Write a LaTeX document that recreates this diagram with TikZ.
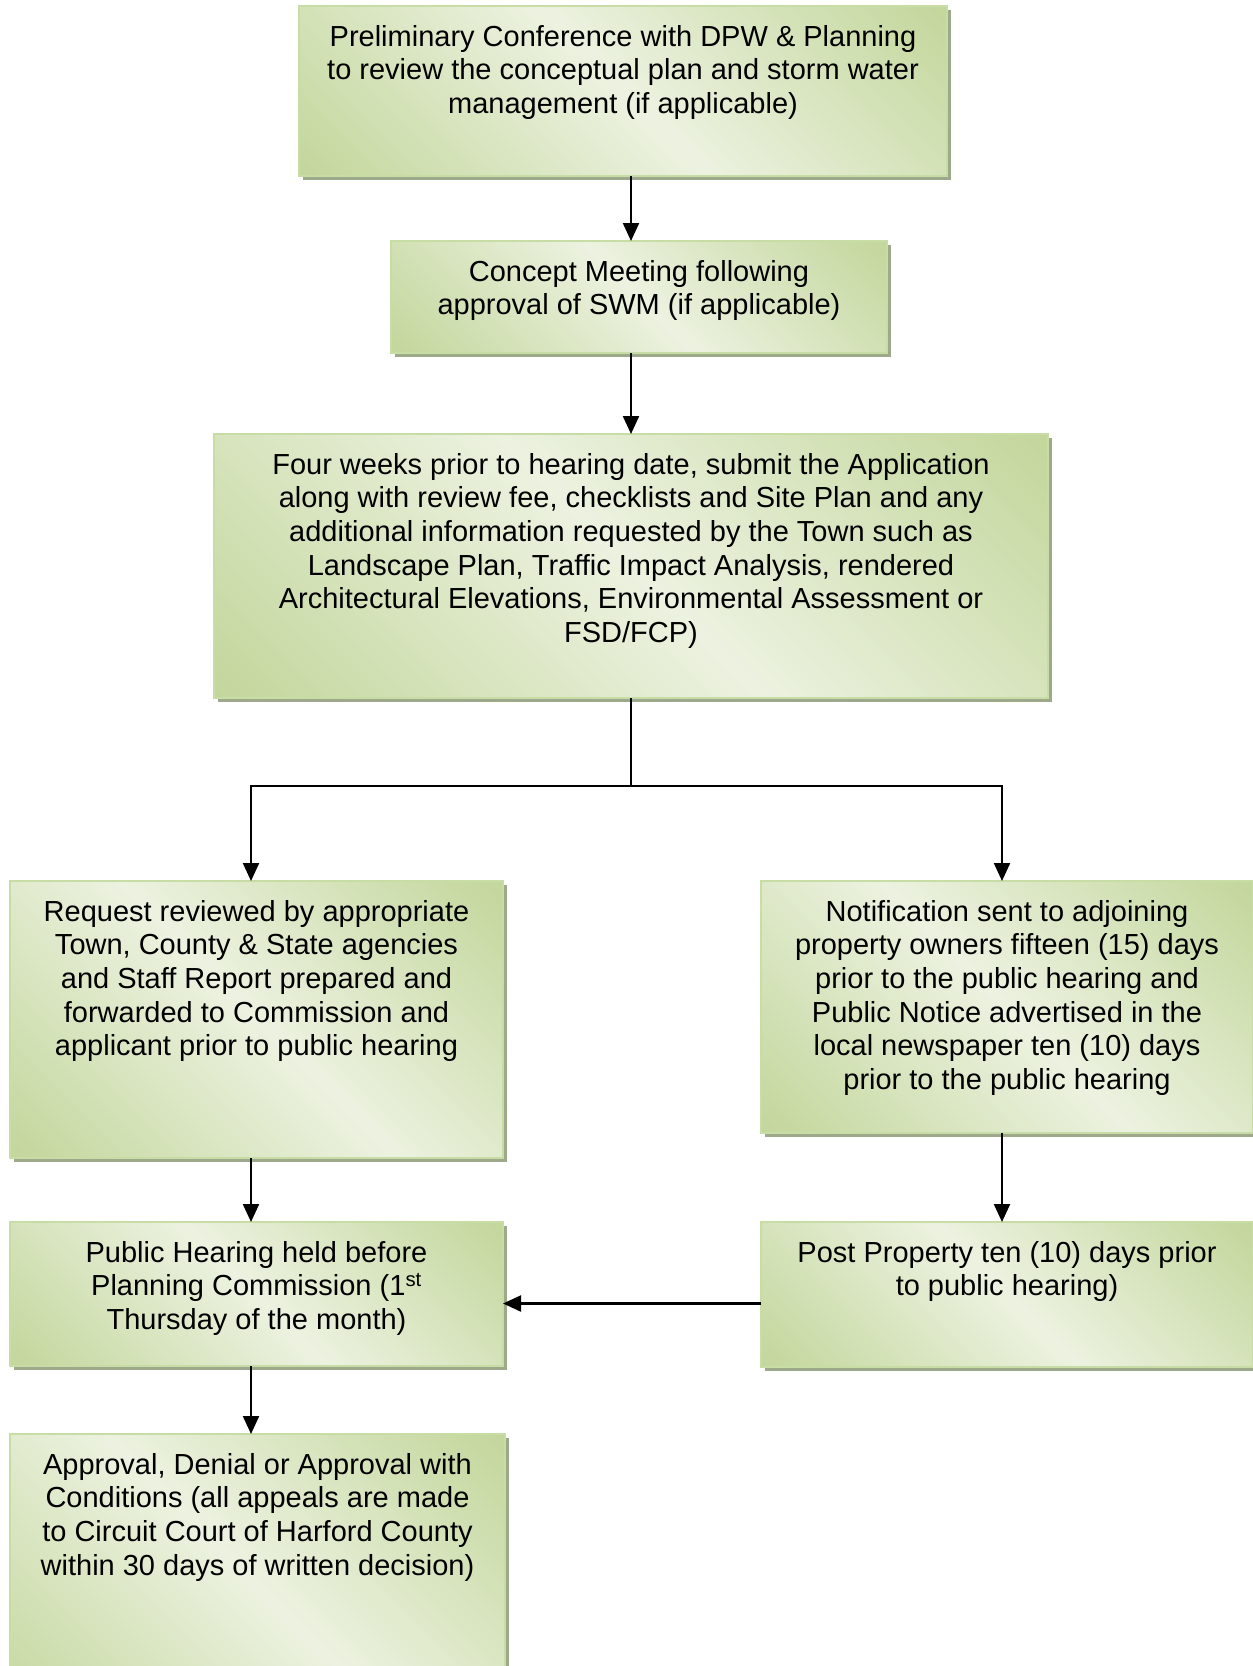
\documentclass[tikz,border=0pt]{standalone}
\usepackage{xcolor}
\usepackage{fontspec}
\setmainfont{Liberation Sans}
\usetikzlibrary{arrows.meta,shadows}

\definecolor{mossDark}{RGB}{192,212,150}
\definecolor{mossLight}{RGB}{236,242,224}
\definecolor{lineColor}{RGB}{200,220,165}
\definecolor{shadowColor}{RGB}{158,168,138}
\pgfdeclarehorizontalshading{moss}{100bp}{color(0bp)=(mossDark); color(12bp)=(mossDark); color(50bp)=(mossLight); color(88bp)=(mossDark); color(100bp)=(mossDark)}

\tikzset{
  stepbox/.style={draw=lineColor,line width=1.5pt,shading=moss,shading angle=45,
    inner sep=0pt,outer sep=0pt,
    drop shadow={shadow xshift=4pt,shadow yshift=-4pt,fill=shadowColor,opacity=1}},
  flow/.style={draw=black,line width=2.2pt,-{Triangle[length=18pt,width=16pt]}},
  plain/.style={draw=black,line width=2.2pt}
}
% width, height, text
\newcommand{\steptext}[3]{\parbox[c][#2][t]{#1}{\centering\vspace*{19pt}#3}}

\begin{document}
\begin{tikzpicture}[x=1pt,y=1pt]
\path[use as bounding box] (0,0) rectangle (1253,-1666);
\fontsize{29}{33.7}\selectfont

\node[stepbox] (conf) at (623,-91) {\steptext{648pt}{170pt}{Preliminary Conference with DPW \& Planning\\to review the conceptual plan and storm water\\management (if applicable)}};

\node[stepbox] (concept) at (639,-297) {\steptext{496pt}{112pt}{Concept Meeting following\\approval of SWM (if applicable)}};

\node[stepbox] (submit) at (631,-566) {\steptext{834pt}{264pt}{Four weeks prior to hearing date, submit the Application\\along with review fee, checklists and Site Plan and any\\additional information requested by the Town such as\\Landscape Plan, Traffic Impact Analysis, rendered\\Architectural Elevations, Environmental Assessment or\\FSD/FCP)}};

\node[stepbox] (review) at (256.5,-1019.5) {\steptext{493pt}{277pt}{Request reviewed by appropriate\\Town, County \& State agencies\\and Staff Report prepared and\\forwarded to Commission and\\applicant prior to public hearing}};

\node[stepbox] (notify) at (1007,-1007) {\steptext{492pt}{252pt}{Notification sent to adjoining\\property owners fifteen (15) days\\prior to the public hearing and\\Public Notice advertised in the\\local newspaper ten (10) days\\prior to the public hearing}};

\node[stepbox] (hearing) at (256.5,-1294) {\steptext{493pt}{144pt}{Public Hearing held before\\Planning Commission (1\textsuperscript{st}\\Thursday of the month)}};

\node[stepbox] (post) at (1007,-1294.5) {\steptext{492pt}{145pt}{Post Property ten (10) days prior\\to public hearing)}};

\node[stepbox] (decision) at (257.5,-1584) {\steptext{495pt}{300pt}{Approval, Denial or Approval with\\Conditions (all appeals are made\\to Circuit Court of Harford County\\within 30 days of written decision)}};

% connectors
\coordinate (split) at (631,-786);
\coordinate (splitL) at (251,-786);
\coordinate (splitR) at (1002,-786);

\draw[flow] (conf.south -| submit.north) -- (concept.north -| submit.north);
\draw[flow] (concept.south -| submit.north) -- (submit.north);
\draw[plain] (submit.south) -- (split);
\draw[flow] (split) -- (splitL) -- (review.north -| splitL);
\draw[flow] (split) -- (splitR) -- (notify.north -| splitR);
\draw[flow] (review.south -| splitL) -- (hearing.north -| splitL);
\draw[flow] (notify.south -| splitR) -- (post.north -| splitR);
\draw[flow] ([yshift=-9pt]post.west) -- ([yshift=-9pt]post.west -| hearing.east);
\draw[flow] (hearing.south -| splitL) -- (decision.north -| splitL);
\end{tikzpicture}
\end{document}
